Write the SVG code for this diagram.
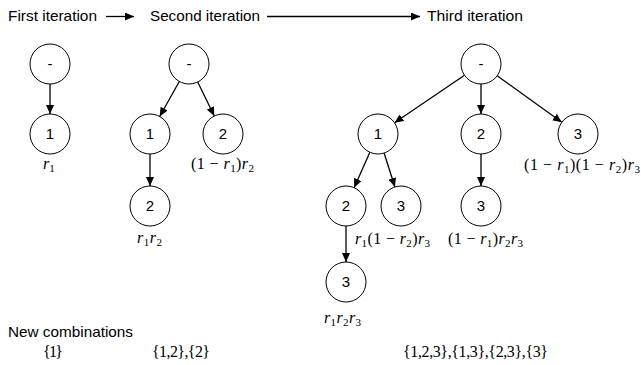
<svg xmlns="http://www.w3.org/2000/svg" width="641" height="365" viewBox="0 0 641 365">
<style>
.n{fill:#fff;stroke:#000;stroke-width:1}
.t{font-family:"Liberation Sans",Arial,sans-serif;font-size:15px;fill:#000}
.c{text-anchor:middle}
.m{font-family:"Liberation Serif","Times New Roman",serif;font-size:16px;fill:#000}
.i{font-style:italic}
.s{font-size:11px}
.e{stroke:#000;stroke-width:1.3;fill:none;marker-end:url(#ah)}
</style>
<defs>
<marker id="ah" markerUnits="userSpaceOnUse" markerWidth="9" markerHeight="8" refX="9" refY="4" orient="auto">
<path d="M0,0 L9,4 L0,8 z" fill="#000"/>
</marker>
</defs>
<g id="headers">
<text class="t" x="8" y="21" textLength="89" lengthAdjust="spacingAndGlyphs">First iteration</text>
<text class="t" x="150" y="21" textLength="110" lengthAdjust="spacingAndGlyphs">Second iteration</text>
<text class="t" x="427" y="21" textLength="96" lengthAdjust="spacingAndGlyphs">Third iteration</text>
</g>
<g id="connectors">
<line class="e" x1="106" y1="16.5" x2="134" y2="16.5"/>
<line class="e" x1="267" y1="16.5" x2="420" y2="16.5"/>
<line class="e" x1="50" y1="84" x2="50" y2="114"/>
<line class="e" x1="179.3" y1="81.5" x2="159.7" y2="116.5"/>
<line class="e" x1="197.7" y1="82" x2="214.3" y2="116"/>
<line class="e" x1="150" y1="154" x2="150" y2="186"/>
<line class="e" x1="464.5" y1="75.2" x2="394.5" y2="122.8"/>
<line class="e" x1="481" y1="84" x2="481" y2="114"/>
<line class="e" x1="497.2" y1="75.7" x2="561.8" y2="122.3"/>
<line class="e" x1="369.9" y1="152.3" x2="354.1" y2="187.7"/>
<line class="e" x1="384.1" y1="153" x2="394.9" y2="187"/>
<line class="e" x1="481" y1="154" x2="481" y2="186"/>
<line class="e" x1="346" y1="226" x2="346" y2="262"/>
</g>
<g id="t1-root"><circle class="n" cx="50" cy="64" r="20"/><text class="t c" x="50" y="69">-</text></g>
<g id="t1-n1"><circle class="n" cx="50" cy="134" r="20"/><text class="t c" x="50" y="139">1</text></g>
<g id="t2-root"><circle class="n" cx="189" cy="64" r="20"/><text class="t c" x="189" y="69">-</text></g>
<g id="t2-n1"><circle class="n" cx="150" cy="134" r="20"/><text class="t c" x="150" y="139">1</text></g>
<g id="t2-n2"><circle class="n" cx="223" cy="134" r="20"/><text class="t c" x="223" y="139">2</text></g>
<g id="t2-n12"><circle class="n" cx="150" cy="206" r="20"/><text class="t c" x="150" y="211">2</text></g>
<g id="t3-root"><circle class="n" cx="481" cy="64" r="20"/><text class="t c" x="481" y="69">-</text></g>
<g id="t3-n1"><circle class="n" cx="378" cy="134" r="20"/><text class="t c" x="378" y="139">1</text></g>
<g id="t3-n2"><circle class="n" cx="481" cy="134" r="20"/><text class="t c" x="481" y="139">2</text></g>
<g id="t3-n3"><circle class="n" cx="578" cy="134" r="20"/><text class="t c" x="578" y="139">3</text></g>
<g id="t3-n12"><circle class="n" cx="346" cy="206" r="20"/><text class="t c" x="346" y="211">2</text></g>
<g id="t3-n13"><circle class="n" cx="401" cy="206" r="20"/><text class="t c" x="401" y="211">3</text></g>
<g id="t3-n23"><circle class="n" cx="481" cy="206" r="20"/><text class="t c" x="481" y="211">3</text></g>
<g id="t3-n123"><circle class="n" cx="346" cy="282" r="20"/><text class="t c" x="346" y="287">3</text></g>
<g id="labels">
<text class="m" x="43" y="169"><tspan class="i">r</tspan><tspan class="s" dy="3">1</tspan></text>
<text class="m" x="191" y="169" textLength="63">(1 − <tspan class="i">r</tspan><tspan class="s" dy="3">1</tspan><tspan dy="-3">)</tspan><tspan class="i">r</tspan><tspan class="s" dy="3">2</tspan></text>
<text class="m" x="137" y="243" textLength="25"><tspan class="i">r</tspan><tspan class="s" dy="3">1</tspan><tspan class="i" dy="-3">r</tspan><tspan class="s" dy="3">2</tspan></text>
<text class="m" x="524" y="170" textLength="116">(1 − <tspan class="i">r</tspan><tspan class="s" dy="3">1</tspan><tspan dy="-3">)(1 − </tspan><tspan class="i">r</tspan><tspan class="s" dy="3">2</tspan><tspan dy="-3">)</tspan><tspan class="i">r</tspan><tspan class="s" dy="3">3</tspan></text>
<text class="m" x="355" y="244" textLength="75"><tspan class="i">r</tspan><tspan class="s" dy="3">1</tspan><tspan dy="-3">(1 − </tspan><tspan class="i">r</tspan><tspan class="s" dy="3">2</tspan><tspan dy="-3">)</tspan><tspan class="i">r</tspan><tspan class="s" dy="3">3</tspan></text>
<text class="m" x="448" y="244" textLength="75">(1 − <tspan class="i">r</tspan><tspan class="s" dy="3">1</tspan><tspan dy="-3">)</tspan><tspan class="i">r</tspan><tspan class="s" dy="3">2</tspan><tspan class="i" dy="-3">r</tspan><tspan class="s" dy="3">3</tspan></text>
<text class="m" x="324" y="323" textLength="37"><tspan class="i">r</tspan><tspan class="s" dy="3">1</tspan><tspan class="i" dy="-3">r</tspan><tspan class="s" dy="3">2</tspan><tspan class="i" dy="-3">r</tspan><tspan class="s" dy="3">3</tspan></text>
</g>
<g id="combinations">
<text class="t" x="8" y="337" textLength="125" lengthAdjust="spacingAndGlyphs">New combinations</text>
<text class="m" x="43" y="357" textLength="20">{1}</text>
<text class="m" x="152" y="357" textLength="58">{1,2},{2}</text>
<text class="m" x="403" y="357" textLength="145">{1,2,3},{1,3},{2,3},{3}</text>
</g>
</svg>
